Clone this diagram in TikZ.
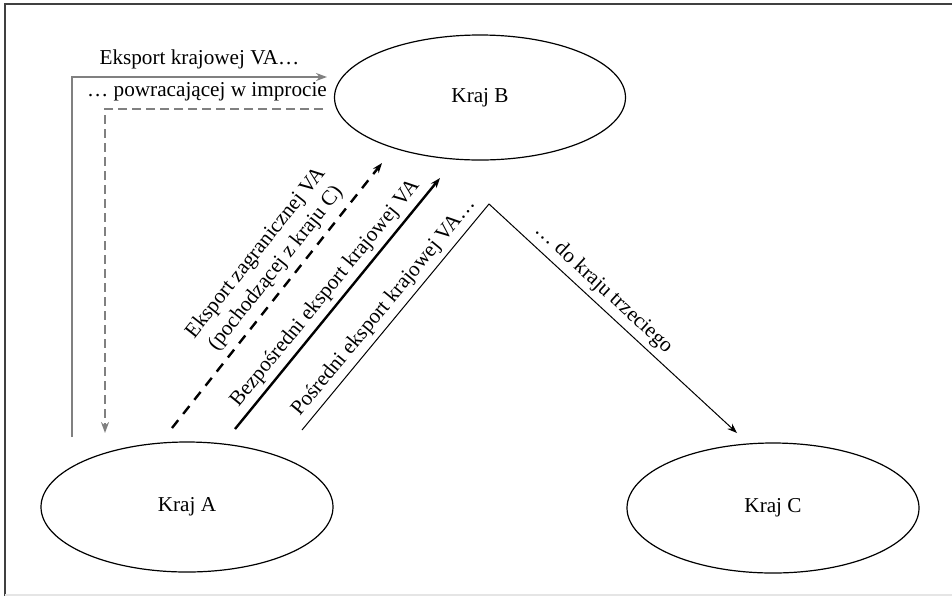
\documentclass[tikz,border=0pt]{standalone}
\usepackage{xcolor}
\usepackage{fontspec}
\setmainfont{Liberation Serif}
\usepackage{tikz}
\usetikzlibrary{arrows.meta,shapes.geometric}

\begin{document}
\begin{tikzpicture}[x=0.5pt, y=-0.5pt,
    every node/.style={font=\fontsize{10.6}{12.7}\selectfont},
    land/.style={draw, ellipse, line width=0.6pt, minimum width=146pt, minimum height=65pt},
    greyline/.style={draw=black!50, line width=1pt, -{Stealth[length=5.5pt, width=4pt]}},
    greydash/.style={greyline, dash pattern=on 4.5pt off 2.5pt},
    blacktip/.style={-{Stealth[length=5pt, width=3.6pt]}},
    foreignva/.style={blacktip, line width=1.2pt, dash pattern=on 5pt off 4pt},
    directva/.style={blacktip, line width=1.2pt},
    indirectva/.style={blacktip, line width=0.5pt}]
          \useasboundingbox (0,0) rectangle (952,596);
          \draw[black!75, line width=1pt] (5,596) -- (5,4) -- (952,4);
          \draw[black!10, line width=1pt] (5,595) -- (952,595);

          \node[land, minimum width=145.5pt, minimum height=62.5pt] (B) at (480,97.5) {Kraj B};
          \node[land] (A) at (187,507) {Kraj A};
          \node[land] (C) at (773,508) {Kraj C};

          \coordinate (retS) at (72,437);
          \coordinate (retE) at (327,77);
          \coordinate (backS) at (323,109);
          \coordinate (backE) at (105,433);
          \coordinate (forS) at (172,428);
          \coordinate (forE) at (382,163);
          \coordinate (dirS) at (235,429);
          \coordinate (dirE) at (440,178);
          \coordinate (indS) at (302,430);
          \coordinate (indP) at (489,204);
          \coordinate (indE) at (737,433);

          \draw[greyline] (retS) |- node[pos=0.75, above] {Eksport krajowej VA…} (retE);
          \draw[greydash] (backS) -| node[pos=0.25, above, xshift=-3.5pt] {… powracającej w improcie} (backE);

          \draw[foreignva] (forS) -- node[pos=0.56, above, sloped, align=center] {Eksport zagranicznej VA\\(pochodzącej z kraju C)} (forE);
          \draw[directva] (dirS) -- node[above, sloped, inner sep=2.5pt] {Bezpośredni eksport krajowej VA} (dirE);
          \draw[indirectva] (indS) -- node[above, sloped, inner sep=2.5pt] {Pośredni eksport krajowej VA…} (indP)
            -- node[pos=0.42, above, sloped, inner sep=2.5pt] {… do kraju trzeciego} (indE);
        \end{tikzpicture}
\end{document}
